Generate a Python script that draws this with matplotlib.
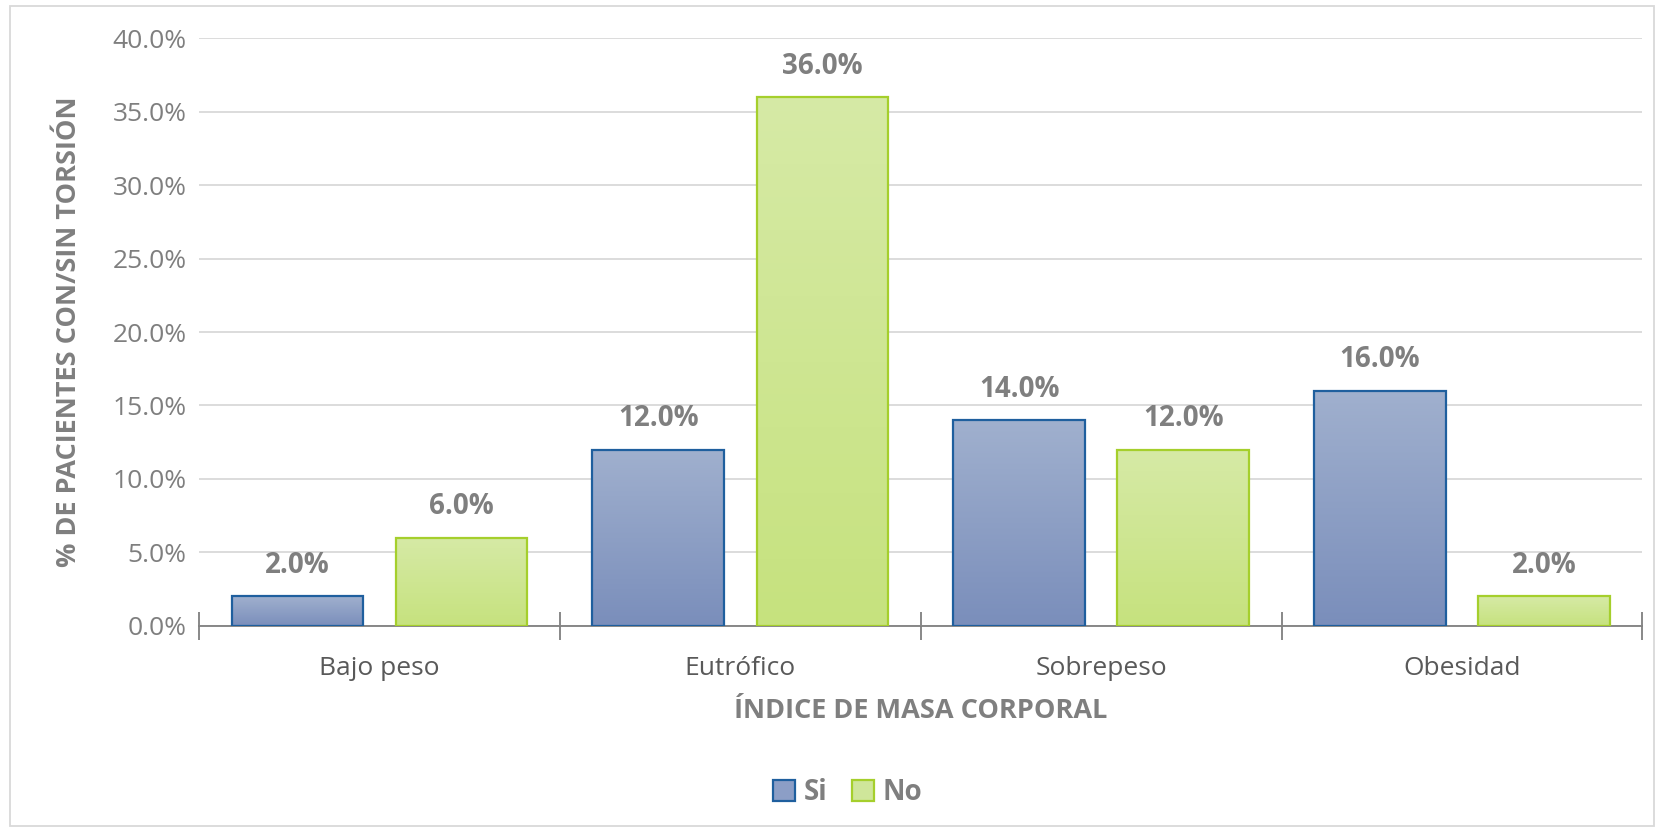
import matplotlib.pyplot as plt
import numpy as np
from matplotlib.patches import Rectangle, Patch

categories = ['Bajo peso', 'Eutrófico', 'Sobrepeso', 'Obesidad']
si_vals = [2.0, 12.0, 14.0, 16.0]
no_vals = [6.0, 36.0, 12.0, 2.0]
yticks = [0, 5, 10, 15, 20, 25, 30, 35, 40]

plt.rcParams['font.family'] = ['Open Sans', 'DejaVu Sans']
GRAY = '#7F7F7F'

fig = plt.figure(figsize=(16.59, 8.30), dpi=100)
ax = fig.add_axes([0.120, 0.246, 0.870, 0.708])

width = 0.365
offset = 0.2275
x = np.arange(len(categories))


def gradient_bars(xs, vals, top, bottom, edge):
    bars = ax.bar(xs, vals, width, facecolor='none', edgecolor=edge, linewidth=1.6, zorder=3)
    grad = np.linspace(0, 1, 256).reshape(-1, 1)
    cmap = plt.matplotlib.colors.LinearSegmentedColormap.from_list('g', [bottom, top])
    for b in bars:
        x0, y0 = b.get_x(), b.get_y()
        w, h = b.get_width(), b.get_height()
        im = ax.imshow(grad, cmap=cmap, aspect='auto', origin='lower',
                       extent=[x0, x0 + w, y0, y0 + h], zorder=2)
        im.set_clip_path(b)
    return bars


si_bars = gradient_bars(x - offset, si_vals, '#A0B0CE', '#7A8EBB', '#1F5F9E')
no_bars = gradient_bars(x + offset, no_vals, '#D6EAA6', '#C6E27E', '#A5CF2C')

for xs, vals in ((x - offset, si_vals), (x + offset, no_vals)):
    for xi, v in zip(xs, vals):
        ax.text(xi, v + 2.1, f'{v:.1f}%', ha='center', va='center',
                fontsize=20, fontweight='bold', color=GRAY)

ax.set_xlim(-0.5, len(categories) - 0.5)
ax.set_ylim(0, 40)
ax.set_yticks(yticks)
ax.set_yticklabels([f'{t:.1f}%' for t in yticks], fontsize=19, color=GRAY)
ax.tick_params(axis='y', length=0, pad=9)
ax.yaxis.grid(True, color='#D9D9D9', linewidth=1.3)
ax.set_axisbelow(True)

ax.set_xticks(x)
ax.set_xticklabels(categories, fontsize=19, color='#595959')
ax.tick_params(axis='x', length=0, pad=22)
ax.set_xticks(np.arange(-0.5, len(categories)), minor=True)
ax.tick_params(axis='x', which='minor', direction='inout', length=20, width=1.3, color=GRAY)

for s in ('top', 'right', 'left'):
    ax.spines[s].set_visible(False)
ax.spines['bottom'].set_color(GRAY)
ax.spines['bottom'].set_linewidth(1.3)

ax.set_xlabel('ÍNDICE DE MASA CORPORAL', fontsize=19.5, fontweight='bold', color=GRAY, labelpad=12)
ax.set_ylabel('% DE PACIENTES CON/SIN TORSIÓN', fontsize=19.5, fontweight='bold', color=GRAY, labelpad=22)

handles = [Patch(facecolor='#8C9EC6', edgecolor='#1F5F9E', linewidth=1.6),
           Patch(facecolor='#CFE69A', edgecolor='#A5CF2C', linewidth=1.6)]
leg = fig.legend(handles, ['Si', 'No'], loc='center', bbox_to_anchor=(0.511, 0.045), ncol=2,
                 frameon=False, handlelength=0.8, handleheight=0.8, handletextpad=0.3,
                 columnspacing=0.9, prop={'size': 20, 'weight': 'bold'})
for t in leg.get_texts():
    t.set_color(GRAY)

fig.patches.append(Rectangle((0.006, 0.005), 0.991, 0.988, transform=fig.transFigure,
                             fill=False, edgecolor='#D9D9D9', linewidth=1.3))

fig.savefig('out.png', dpi=100)
